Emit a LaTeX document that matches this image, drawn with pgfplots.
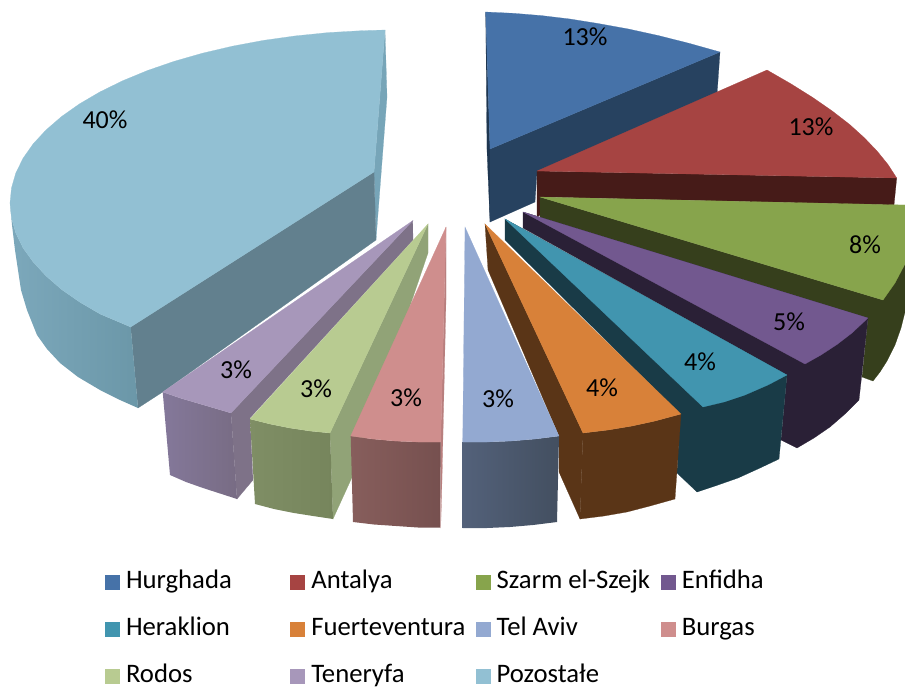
\documentclass[border=0pt]{standalone}
\usepackage{fontspec}
\setmainfont{Carlito}
\usepackage{pgfplots}
\pgfplotsset{compat=1.18}
\definecolor{cA}{HTML}{4672A8}\definecolor{cAd}{HTML}{274260}\definecolor{cAs}{HTML}{1E3650}
\definecolor{cB}{HTML}{A64442}\definecolor{cBd}{HTML}{461B18}
\definecolor{cC}{HTML}{87A44C}\definecolor{cCd}{HTML}{363F1C}
\definecolor{cD}{HTML}{72588F}\definecolor{cDd}{HTML}{2A2036}
\definecolor{cE}{HTML}{4195AF}\definecolor{cEd}{HTML}{193B47}
\definecolor{cF}{HTML}{D88139}\definecolor{cFd}{HTML}{5A3517}
\definecolor{cG}{HTML}{93A9D1}\definecolor{cGl}{HTML}{53617A}\definecolor{cGr}{HTML}{434F60}
\definecolor{cH}{HTML}{CF8E8D}\definecolor{cHs}{HTML}{B87F7E}\definecolor{cHl}{HTML}{875E5C}\definecolor{cHr}{HTML}{76504F}
\definecolor{cI}{HTML}{B8CB91}\definecolor{cId}{HTML}{91A377}\definecolor{cIl}{HTML}{7F8E65}\definecolor{cIr}{HTML}{76855C}
\definecolor{cJ}{HTML}{A797BA}\definecolor{cJd}{HTML}{7E7288}\definecolor{cJl}{HTML}{84789A}\definecolor{cJr}{HTML}{786C84}
\definecolor{cK}{HTML}{92C0D3}\definecolor{cKd}{HTML}{62808E}\definecolor{cKs}{HTML}{77A5B8}\definecolor{cKl}{HTML}{7CA8BB}\definecolor{cKr}{HTML}{6B97A8}
\pgfplotsset{
  face/.style={forget plot,draw=#1,line width=0.2pt,fill=#1},
  wall/.style 2 args={forget plot,draw=none,left color=#1,right color=#2},
  swatch/.style={legend image code/.code={\fill[##1] (0pt,-1.5pt) rectangle (15pt,13.5pt);}}
}
\newcommand{\cell}[1]{\makebox[164.3pt][l]{#1}}
\begin{document}
\begin{tikzpicture}
\useasboundingbox (0,0) rectangle (905pt,688pt);
\begin{axis}[
  scale only axis,width=905pt,height=688pt,
  xmin=0,xmax=905,ymin=0,ymax=688,y dir=reverse,hide axis,clip=true,
  font=\fontsize{26}{30}\selectfont,
  legend columns=4,
  legend cell align=left,
  legend style={at={(axis cs:105,571)},anchor=north west,draw=none,fill=none,inner sep=0pt,outer sep=0pt,
    nodes={inner sep=0pt,outer sep=0pt,text height=17pt,text depth=4pt,anchor=base west},
    /tikz/row sep=26pt,/tikz/column sep=0pt,
    /tikz/every odd column/.style={column sep=6pt},
    font=\fontsize{26.7}{30}\selectfont},
  swatch
]
% Pozostale
\addplot[face=cKs] coordinates {(385,30)(387,97)(376,240)(374,172)} --cycle;
\addplot[face=cKd] coordinates {(374,172)(376,240)(162.7,392)(138,408)(130.7,327)} --cycle;
\addplot[wall={cKl}{cKr}] coordinates {(10,203)(11.5,218)(15.8,233)(23.1,248)(33.2,262)(46.1,276)(61.6,289.5)(79.6,302)(100.1,314)(130.7,327)(138,408)(120,400)(100,390)(78,377)(60,363)(47,349)(37,335)(27,310)(21,290)(18,270)(15,250)(12,225)} --cycle;
\addplot[face=cK] coordinates {(385,30)(361.4,30.7)(328.2,32.6)(295.4,35.9)(263.3,40.4)(232.3,46.2)(202.5,53.2)(174.2,61.3)(147.5,70.5)(122.8,80.7)(100.1,91.8)(79.6,103.8)(61.6,116.5)(46.1,129.9)(33.2,143.8)(23.1,158.2)(15.8,173)(11.5,187.9)(10,203)(11.5,218)(15.8,233)(23.1,248)(33.2,262)(46.1,276)(61.6,289.5)(79.6,302)(100.1,314)(130.7,327)(374,172)} --cycle;
% Teneryfa
\addplot[face=cJd] coordinates {(412.7,220.7)(413,240)(250,418)(253,480)(237,499)(231,413)} --cycle;
\addplot[wall={cJl}{cJr}] coordinates {(162.7,392)(180,398)(197,403)(214,408)(231,413)(237,499)(220,493.5)(203,488)(186,482)(170,475)} --cycle;
\addplot[face=cJ] coordinates {(412.7,220.7)(231,413)(214,408)(197,403)(180,398)(162.7,392)} --cycle;
% Rodos
\addplot[face=cId] coordinates {(428,224)(428,253)(351.7,478)(333,519)(330,433)} --cycle;
\addplot[wall={cIl}{cIr}] coordinates {(250,419)(270,424)(290,428)(310,431)(330,433)(333,519)(313,516)(294,513)(274,509)(255,504)} --cycle;
\addplot[face=cI] coordinates {(428,224)(330,433)(310,431)(290,428)(270,424)(250,419)} --cycle;
% Burgas
\addplot[face=cHs] coordinates {(446,227)(446,300)(442,480)(440.7,528)(440.7,442)} --cycle;
\addplot[wall={cHl}{cHr}] coordinates {(350.7,436)(373,439)(395,441)(418,442)(440.7,442)(440,527.7)(418,527.5)(396,526)(374,524.5)(353,522)} --cycle;
\addplot[face=cH] coordinates {(446,227)(440.7,442)(418,442)(395,441)(373,439)(350.7,436)} --cycle;
% Hurghada
\addplot[face=cAs] coordinates {(485.7,12)(490,149)(490,222)(487,150)} --cycle;
\addplot[face=cAd] coordinates {(490,149)(720,52)(717,95)(537,172)(535,202)(490,222)} --cycle;
\addplot[face=cA] coordinates {(485.7,12)(513.5,13.3)(541.5,15.6)(569.9,19)(598,23.5)(628.4,29)(658.5,35.6)(689,43.3)(720,52)(490,149)} --cycle;
% Antalya
\addplot[face=cBd] coordinates {(537,171)(896.7,178)(894,205)(540,197)(540,215)(537,217)} --cycle;
\addplot[face=cB] coordinates {(537,171)(767,70)(790.9,83.8)(812.6,97.4)(832.1,110.9)(849.7,124.5)(864.5,137.9)(877.4,151.4)(888.2,164.8)(896.7,178)} --cycle;
% Szarm el-Szejk
\addplot[face=cCd] coordinates {(540,197)(883,300)(905,264)(905,312)(901,328)(895,345)(887,361)(880,372)(873,381)(862,377)(868,318)(540,218)} --cycle;
\addplot[face=cC] coordinates {(540,197)(905,205)(905,264)(895,283)(883,300)} --cycle;
% Enfidha
\addplot[face=cDd] coordinates {(523,212)(868,318)(859,400)(845,414)(830,427)(814,438)(797,448)(781,440)(787,375)(523,228)} --cycle;
\addplot[face=cD] coordinates {(523,212)(868,318)(852,333)(837,344.5)(821,355)(805,364)} --cycle;
% Heraklion
\addplot[face=cEd] coordinates {(505,219)(787,375)(779,459)(760,468)(738,478)(718,485)(697,492)(677,473)(680,414)(505,240)} --cycle;
\addplot[face=cE] coordinates {(505,219)(787,375)(768,385)(745,395)(724,402)(703,407)} --cycle;
% Fuerteventura
\addplot[face=cFd] coordinates {(485,224)(583,433)(580,519)(559,472)(559,436)(488,270)} --cycle;
\addplot[face=cFd] coordinates {(583,433)(608,430)(632,426)(655,421)(681,414)(675,499)(650,506)(627,512)(604,516)(580,519)} --cycle;
\addplot[face=cF] coordinates {(485,224)(681,414)(655,421)(632,426)(608,430)(583,433)} --cycle;
% Tel Aviv
\addplot[wall={cGl}{cGr}] coordinates {(462.7,442)(487,442)(511,441)(535,439)(559,436)(557,522)(533,525)(510,527)(487,528)(462.7,528)} --cycle;
\addplot[face=cG] coordinates {(465,227)(559,436)(535,439)(511,441)(487,442)(462.7,442)} --cycle;
% Percent labels
\addplot[forget plot,draw=none,mark=none,point meta=explicit,
  nodes near coords={\pgfmathprintnumber[assume math mode=true]{\pgfplotspointmeta}\%},
  nodes near coords style={anchor=center,inner sep=0pt,font=\fontsize{26}{30}\selectfont,text=black}]
 coordinates {(585,37)[13](811,127)[13](865,245)[8](789,322)[5](700,362)[4](602,388)[4](498,399)[3](406,398)[3](316,389)[3](236,370)[3](105,120)[40]};
% Legend
\addlegendimage{fill=cA,draw=none}\addlegendentry{\cell{Hurghada}}
\addlegendimage{fill=cB,draw=none}\addlegendentry{\cell{Antalya}}
\addlegendimage{fill=cC,draw=none}\addlegendentry{\cell{Szarm el-Szejk}}
\addlegendimage{fill=cD,draw=none}\addlegendentry{\cell{Enfidha}}
\addlegendimage{fill=cE,draw=none}\addlegendentry{\cell{Heraklion}}
\addlegendimage{fill=cF,draw=none}\addlegendentry{\cell{Fuerteventura}}
\addlegendimage{fill=cG,draw=none}\addlegendentry{\cell{Tel Aviv}}
\addlegendimage{fill=cH,draw=none}\addlegendentry{\cell{Burgas}}
\addlegendimage{fill=cI,draw=none}\addlegendentry{\cell{Rodos}}
\addlegendimage{fill=cJ,draw=none}\addlegendentry{\cell{Teneryfa}}
\addlegendimage{fill=cK,draw=none}\addlegendentry{\cell{Pozostałe}}
\end{axis}
\end{tikzpicture}
\end{document}
